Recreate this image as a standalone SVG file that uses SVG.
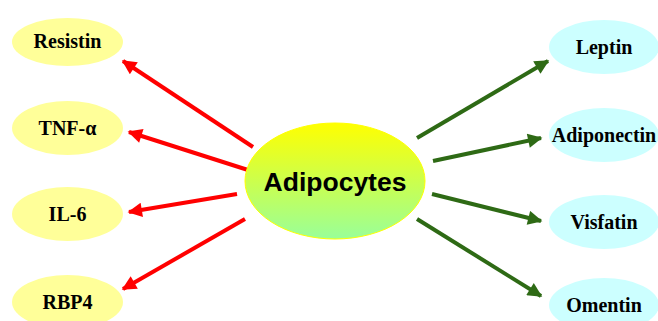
<svg xmlns="http://www.w3.org/2000/svg" width="658" height="321" viewBox="0 0 658 321">
<defs>
<linearGradient id="g" x1="0" y1="0" x2="0" y2="1">
<stop offset="0" stop-color="#FFFF00"/>
<stop offset="1" stop-color="#99FF99"/>
</linearGradient>
<marker id="ar" viewBox="0 0 10 10" refX="9" refY="5" markerWidth="4" markerHeight="3.6" orient="auto" markerUnits="strokeWidth">
<path d="M0,0 L10,5 L0,10 z" fill="#FF0000"/>
</marker>
<marker id="ag" viewBox="0 0 10 10" refX="9" refY="5" markerWidth="4" markerHeight="3.6" orient="auto" markerUnits="strokeWidth">
<path d="M0,0 L10,5 L0,10 z" fill="#2E6A15"/>
</marker>
</defs>
<style>
.y{fill:#FFFF99}
.c{fill:#CCFFFF}
.t{font-family:"Liberation Serif",serif;font-weight:bold;font-size:20px;fill:#000;text-anchor:middle}
.r{stroke:#FF0000;stroke-width:4;fill:none;marker-end:url(#ar)}
.gr{stroke:#2E6A15;stroke-width:4;fill:none;marker-end:url(#ag)}
</style>
<rect width="658" height="321" fill="#FFFFFF"/>
<g id="connectors">
<line class="r" x1="253" y1="147" x2="123" y2="61"/>
<line class="r" x1="248" y1="170" x2="129" y2="132"/>
<line class="r" x1="237" y1="194" x2="129" y2="212"/>
<line class="r" x1="245" y1="219" x2="123" y2="289"/>
<line class="gr" x1="417" y1="138" x2="548" y2="61"/>
<line class="gr" x1="433" y1="161" x2="541" y2="138"/>
<line class="gr" x1="432" y1="194" x2="541" y2="221"/>
<line class="gr" x1="417" y1="219" x2="541" y2="296"/>
</g>
<g id="adipocytes">
<ellipse cx="335" cy="181" rx="90" ry="58" fill="url(#g)" stroke="#FFFF00" stroke-width="1"/>
<text x="335" y="191" font-family="Liberation Sans,Arial,sans-serif" font-weight="bold" font-size="26.5" text-anchor="middle" fill="#000">Adipocytes</text>
</g>
<g id="resistin">
<ellipse class="y" cx="67.5" cy="42" rx="55.5" ry="24"/>
<text class="t" x="67.5" y="48">Resistin</text>
</g>
<g id="tnf">
<ellipse class="y" cx="67.5" cy="128" rx="55.5" ry="27"/>
<text class="t" x="67.5" y="135">TNF-α</text>
</g>
<g id="il6">
<ellipse class="y" cx="67.5" cy="214" rx="55.5" ry="27"/>
<text class="t" x="67.5" y="221">IL-6</text>
</g>
<g id="rbp4">
<ellipse class="y" cx="67.5" cy="302" rx="55.5" ry="27"/>
<text class="t" x="67.5" y="309">RBP4</text>
</g>
<g id="leptin">
<ellipse class="c" cx="604" cy="47" rx="55" ry="27"/>
<text class="t" x="604" y="54">Leptin</text>
</g>
<g id="adiponectin">
<ellipse class="c" cx="604" cy="135" rx="55" ry="27"/>
<text class="t" x="604" y="142">Adiponectin</text>
</g>
<g id="visfatin">
<ellipse class="c" cx="604" cy="222" rx="55" ry="27"/>
<text class="t" x="604" y="229">Visfatin</text>
</g>
<g id="omentin">
<ellipse class="c" cx="604" cy="305" rx="55" ry="27"/>
<text class="t" x="604" y="312">Omentin</text>
</g>
</svg>
